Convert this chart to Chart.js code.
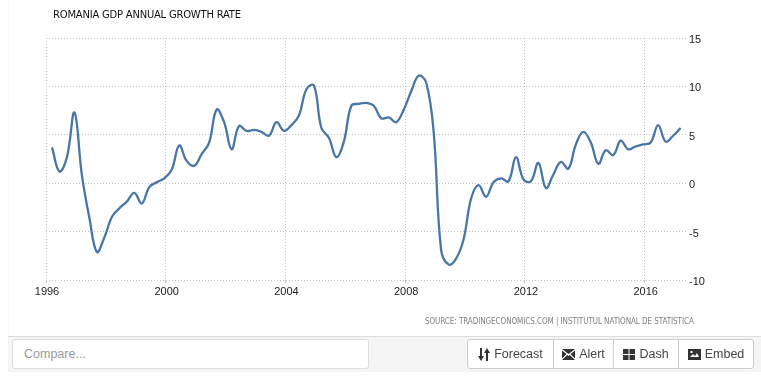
<!DOCTYPE html>
<html lang="en">
<head>
  <meta charset="UTF-8">
  <title>Romania GDP Annual Growth Rate</title>
  <style>
    html, body { margin: 0; padding: 0; background: #fff; }
    body { width: 761px; height: 389px; position: relative; overflow: hidden; font-family: 'Liberation Sans', Arial, sans-serif; }
    #panel { position: absolute; left: 8px; top: 0; width: 753px; height: 336px; background: #fff; border-left: 1px solid #fafafa; box-sizing: border-box; }
    #chart-wrap { position: absolute; left: 0; top: 0; width: 761px; height: 336px; }
    #title { position: absolute; left: 53px; top: 9px; font: 10px 'DejaVu Sans', sans-serif; letter-spacing: -0.22px; color: #111; white-space: nowrap; }
    #source { position: absolute; left: 425px; top: 317px; font: 8px 'DejaVu Sans Condensed', 'DejaVu Sans', sans-serif; letter-spacing: -0.06px; color: #808080; white-space: nowrap; }
    #bar { position: absolute; left: 8px; top: 336px; width: 753px; height: 36px; background: #f5f5f5; border-top: 1px solid #ddd; box-sizing: border-box; }
    #compare { position: absolute; left: 12px; top: 339px; width: 357px; height: 30px; background: #fff; border: 1px solid #ddd; border-radius: 3px; box-sizing: border-box; padding: 7px 11px; font-size: 12.5px; color: #999; }
    #btns { position: absolute; left: 467px; top: 339px; width: 287px; height: 30px; display: flex; background: #fff; border: 1px solid #ccc; border-radius: 3px; box-sizing: border-box; }
    #btns div { display: flex; align-items: center; justify-content: center; gap: 4px; font-size: 12.5px; color: #444; border-left: 1px solid #ccc; box-sizing: border-box; height: 100%; }
    #btns div:first-child { border-left: 0; }
    svg { display: block; }
  </style>
  <script src="https://cdn.jsdelivr.net/npm/chart.js"></script>
</head>
<body>
  <div id="panel"></div>
  <div id="chart-wrap"><canvas id="gdpChart" width="761" height="336"></canvas></div>
  <div id="title">ROMANIA GDP ANNUAL GROWTH RATE</div>
  <div id="source">SOURCE: TRADINGECONOMICS.COM | INSTITUTUL NATIONAL DE STATISTICA</div>
  <div id="bar"></div>
  <div id="compare">Compare...</div>
  <div id="btns">
    <div style="width:85px">
      <svg width="12" height="13" viewBox="0 0 12 13" fill="#333"><path d="M2 0h2v8h2l-3 5-3-5h2zM8 13h2V5h2L9 0 6 5h2z"/></svg>Forecast
    </div>
    <div style="width:60px">
      <svg width="13" height="11" viewBox="0 0 13 11" fill="#333"><path d="M0 0h13L6.5 5zM0 1.5 4.5 5 0 9.5zM13 1.5V9.5L8.500 5zM0 11l5.200-5 1.300 1 1.300-1 5.200 5z"/></svg>Alert
    </div>
    <div style="width:65px">
      <svg width="12" height="11" viewBox="0 0 12 11" fill="#333"><path d="M0 0h5.500v5H0zM6.500 0H12v5H6.500zM0 6h5.500v5H0zM6.500 6H12v5H6.500z"/></svg>Dash
    </div>
    <div style="width:75px">
      <svg width="13" height="11" viewBox="0 0 13 11"><path fill="#333" d="M0 0h13v11H0z"/><path fill="#fff" d="M2 8l3-3 2 2 2-3 2 4zM2.500 2h2v2h-2z"/></svg>Embed
    </div>
  </div>
  <script>
    const years = [
      1996.2, 1996.45, 1996.7, 1996.95,
      1997.2, 1997.45, 1997.7, 1997.95,
      1998.2, 1998.45, 1998.7, 1998.95,
      1999.2, 1999.45, 1999.7, 1999.95,
      2000.2, 2000.45, 2000.7, 2000.95,
      2001.2, 2001.45, 2001.7, 2001.95,
      2002.2, 2002.45, 2002.7, 2002.95,
      2003.2, 2003.45, 2003.7, 2003.95,
      2004.2, 2004.45, 2004.7, 2004.95,
      2005.2, 2005.45, 2005.7, 2005.95,
      2006.2, 2006.45, 2006.7, 2006.95,
      2007.2, 2007.45, 2007.7, 2007.95,
      2008.2, 2008.45, 2008.7, 2008.95,
      2009.2, 2009.45, 2009.7, 2009.95,
      2010.2, 2010.45, 2010.7, 2010.95,
      2011.2, 2011.45, 2011.7, 2011.95,
      2012.2, 2012.45, 2012.7, 2012.95,
      2013.2, 2013.45, 2013.7, 2013.95,
      2014.2, 2014.45, 2014.7, 2014.95,
      2015.2, 2015.45, 2015.7, 2015.95,
      2016.2, 2016.45, 2016.7, 2016.95,
      2017.2
    ];
    const growth = [
      3.7, 1.2, 2.7, 7.3,
      0.8, -3.6, -7.1, -5.6,
      -3.5, -2.6, -1.9, -1.0,
      -2.1, -0.4, 0.1, 0.5,
      1.4, 3.9, 2.3, 1.8,
      3.0, 4.2, 7.6, 6.3,
      3.5, 5.9, 5.4, 5.5,
      5.3, 4.9, 6.3, 5.4,
      6.0, 7.0, 9.7, 10.1,
      5.7, 4.7, 2.7, 4.3,
      8.0, 8.2, 8.3, 8.0,
      6.7, 6.8, 6.3, 7.6,
      9.5, 11.1, 10.4, 5.3,
      -6.9, -8.4, -7.8, -5.8,
      -1.6, -0.2, -1.4, 0.1,
      0.5, 0.2, 2.7, 0.4,
      0.2, 2.1, -0.5, 0.9,
      2.2, 1.5, 4.0, 5.3,
      4.2, 2.0, 3.4, 2.9,
      4.4, 3.5, 3.8, 4.0,
      4.2, 6.0, 4.3, 4.9,
      5.7
    ];
    const yTicks = [15, 10, 5, 0, -5, -10];
    const xTickStep = 4;

    new Chart(document.getElementById('gdpChart').getContext('2d'), {
      type: 'line',
      data: {
        datasets: [{
          data: years.map((y, i) => ({ x: y, y: growth[i] })),
          borderColor: '#4a76a6',
          borderWidth: 2.3,
          pointRadius: 0,
          tension: 0.4,
          fill: false
        }]
      },
      options: {
        responsive: false,
        animation: false,
        layout: { padding: { left: 46, top: 38, right: 0, bottom: 0 } },
        plugins: { legend: { display: false }, title: { display: false }, tooltip: { enabled: false } },
        scales: {
          x: {
            type: 'linear',
            min: 1996,
            max: 2017.38,
            afterFit: s => { s.height = 56; },
            border: { display: false, dash: [1, 2] },
            grid: { color: '#c4c4c4', tickColor: '#c4c4c4', tickLength: 3 },
            ticks: {
              stepSize: xTickStep,
              includeBounds: false,
              maxRotation: 0,
              padding: 2,
              labelOffset: 1,
              color: '#222',
              font: { family: "'Liberation Sans'", size: 11 },
              callback: v => String(v)
            }
          },
          y: {
            position: 'right',
            min: -10,
            max: 15,
            afterFit: s => { s.width = 75; },
            afterBuildTicks: s => { s.ticks = yTicks.map(v => ({ value: v })); },
            border: { display: false, dash: [1, 2] },
            grid: { color: '#c4c4c4', drawTicks: false },
            ticks: {
              padding: 3,
              labelOffset: 2,
              color: '#222',
              font: { family: "'Liberation Sans'", size: 11 }
            }
          }
        }
      }
    });
  </script>
</body>
</html>
